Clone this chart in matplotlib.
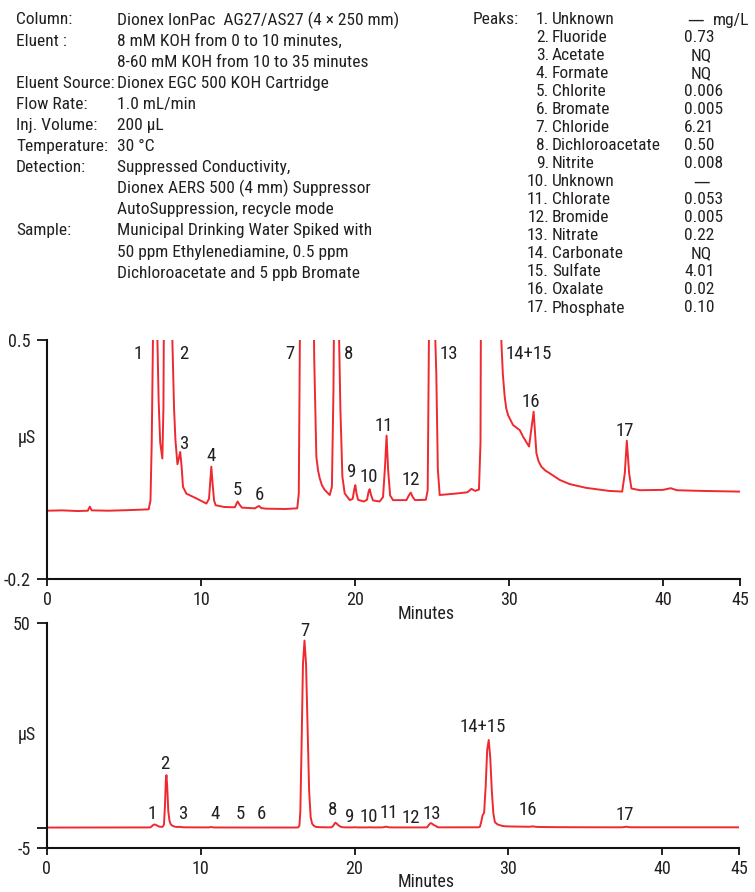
import matplotlib
matplotlib.use('Agg')
import matplotlib.pyplot as plt
from matplotlib import font_manager as fm

# ---------------- data ----------------
header_labels = ['Column:', 'Eluent :', '', 'Eluent Source:', 'Flow Rate:', 'Inj. Volume:',
                 'Temperature:', 'Detection:', '', '', 'Sample:', '', '']
header_values = ['Dionex IonPac  AG27/AS27 (4 \u00d7 250 mm)',
                 '8 mM KOH from 0 to 10 minutes,',
                 '8-60 mM KOH from 10 to 35 minutes',
                 'Dionex EGC 500 KOH Cartridge',
                 '1.0 mL/min',
                 '200 \u00b5L',
                 '30 \u00b0C',
                 'Suppressed Conductivity,',
                 'Dionex AERS 500 (4 mm) Suppressor',
                 'AutoSuppression, recycle mode',
                 'Municipal Drinking Water Spiked with',
                 '50 ppm Ethylenediamine, 0.5 ppm',
                 'Dichloroacetate and 5 ppb Bromate']

peak_names = ['Unknown', 'Fluoride', 'Acetate', 'Formate', 'Chlorite', 'Bromate', 'Chloride',
              'Dichloroacetate', 'Nitrite', 'Unknown', 'Chlorate', 'Bromide', 'Nitrate',
              'Carbonate', 'Sulfate', 'Oxalate', 'Phosphate']
peak_amounts = ['\u2014', '0.73', 'NQ', 'NQ', '0.006', '0.005', '6.21', '0.50', '0.008',
                '\u2014', '0.053', '0.005', '0.22', 'NQ', '4.01', '0.02', '0.10']

# chromatogram trace (minutes, uS)
time_min = [0.0, 1.0, 2.0, 2.65, 2.78, 2.9, 4.0, 5.5, 6.6, 6.72, 6.8, 6.88, 6.95, 7.0, 7.08,
            7.17, 7.25, 7.35, 7.49, 7.56, 7.62, 7.68, 7.74, 7.78, 7.83, 7.9, 7.98, 8.06, 8.14,
            8.25, 8.34, 8.47, 8.57, 8.65, 8.74, 8.83, 9.05, 9.7, 10.35, 10.52, 10.6, 10.67,
            10.75, 10.85, 10.95, 11.5, 12.2, 12.3, 12.38, 12.5, 12.65, 13.5, 13.68, 13.77, 13.9,
            14.2, 15.5, 16.25, 16.35, 16.42, 16.48, 16.56, 16.65, 16.75, 16.85, 16.95, 17.05,
            17.15, 17.25, 17.35, 17.49, 17.6, 17.71, 17.85, 18.03, 18.36, 18.5, 18.6, 18.68,
            18.76, 18.86, 18.95, 19.05, 19.18, 19.33, 19.66, 19.85, 19.95, 20.02, 20.1, 20.2,
            20.56, 20.78, 20.88, 20.95, 21.05, 21.17, 21.6, 21.82, 21.95, 22.05, 22.15, 22.28,
            22.47, 23.34, 23.5, 23.62, 23.75, 23.9, 24.6, 24.72, 24.8, 24.88, 24.95, 25.05,
            25.15, 25.28, 25.38, 25.5, 26.5, 27.3, 27.56, 27.8, 28.05, 28.15, 28.24, 28.32,
            28.42, 28.52, 28.62, 28.72, 28.82, 28.92, 29.02, 29.12, 29.3, 29.5, 29.6, 29.72,
            29.82, 29.94, 30.26, 30.7, 30.91, 31.3, 31.45, 31.6, 31.78, 31.92, 32.1, 32.35,
            32.63, 33.3, 33.94, 35.0, 36.5, 37.35, 37.52, 37.65, 37.8, 37.95, 38.5, 40.0, 40.5,
            40.9, 42.5, 45.0]
signal_uS = [0.0, 0.001, -0.001, 0.0, 0.012, 0.001, 0.0, 0.002, 0.004, 0.03, 0.2, 0.5, 0.68,
             0.75, 0.68, 0.5, 0.32, 0.2, 0.153, 0.3, 0.8, 5.0, 11.5, 12.8, 10.0, 4.0, 1.6, 0.8,
             0.5, 0.3, 0.207, 0.136, 0.155, 0.172, 0.13, 0.07, 0.05, 0.036, 0.021, 0.035, 0.085,
             0.129, 0.08, 0.03, 0.016, 0.011, 0.010, 0.02, 0.027, 0.018, 0.009, 0.007, 0.012,
             0.014, 0.008, 0.006, 0.005, 0.007, 0.05, 0.5, 4.0, 20.0, 40.0, 45.7, 40.0, 24.0,
             9.0, 2.5, 0.9, 0.45, 0.158, 0.118, 0.095, 0.075, 0.061, 0.046, 0.07, 0.35, 0.8,
             1.2, 0.9, 0.55, 0.3, 0.1, 0.051, 0.031, 0.035, 0.062, 0.075, 0.05, 0.032, 0.027,
             0.032, 0.055, 0.063, 0.045, 0.03, 0.027, 0.04, 0.13, 0.22, 0.12, 0.045, 0.031,
             0.031, 0.045, 0.053, 0.04, 0.031, 0.032, 0.06, 0.5, 0.85, 1.1, 0.9, 0.6, 0.4, 0.12,
             0.046, 0.05, 0.054, 0.064, 0.058, 0.062, 0.2, 1.5, 3.0, 3.6, 10.0, 19.0, 21.4,
             17.0, 9.0, 3.5, 1.3, 0.75, 0.5, 0.4, 0.334, 0.3, 0.28, 0.251, 0.236, 0.217, 0.188,
             0.24, 0.29, 0.168, 0.145, 0.129, 0.118, 0.11, 0.09, 0.078, 0.067, 0.058, 0.056,
             0.11, 0.205, 0.11, 0.065, 0.06, 0.061, 0.066, 0.06, 0.058, 0.056]

peak_labels = ['1', '2', '3', '4', '5', '6', '7', '8', '9', '10', '11', '12', '13', '14+15', '16', '17']

x_ticks = [0, 10, 20, 30, 40, 45]

# ---------------- font choice: prefer a narrow sans ----------------
narrow = None
prefs = ['Liberation Sans Narrow', 'Roboto Condensed', 'Open Sans Condensed',
         'Noto Sans Condensed', 'DejaVu Sans Condensed']
by_name = {}
for f in fm.fontManager.ttflist:
    if f.style != 'normal':
        continue
    w = f.weight if isinstance(f.weight, int) else 400
    if w not in (300, 400):
        continue
    by_name.setdefault(f.name, []).append(f)
for p in prefs:
    if p in by_name:
        narrow = sorted(by_name[p], key=lambda f: (f.stretch != 'condensed', f.weight != 400))[0].fname
        break
if narrow is None:
    for f in fm.fontManager.ttflist:
        if f.style == 'normal' and str(f.stretch) in ('condensed', 'semi-condensed') and \
                (f.weight in (400, 'normal', 'regular')):
            if 'Noto Sans' == f.name or 'DejaVu Sans' == f.name:
                narrow = f.fname
                break

if narrow is not None:
    fm.fontManager.addfont(narrow)
    fam = fm.FontProperties(fname=narrow).get_name()
    plt.rcParams['font.family'] = [fam, 'DejaVu Sans']
    SCALE = 1.0
else:
    plt.rcParams['font.family'] = ['Liberation Sans', 'DejaVu Sans']
    SCALE = 0.86

W, H = 755, 892
TXT = '#231f20'
RED = '#ee2a30'
FS_HEAD = 12.5 * SCALE
FS_TICK = 13 * SCALE
FS_LAB = 13.5 * SCALE
DASH_FAMILY = ['DejaVu Sans']

fig = plt.figure(figsize=(W / 100, H / 100), dpi=100)


def fx(px):
    return px / W


def fy(py):
    return 1 - py / H


# header (left block)
row_y = [20 + 21.1 * i for i in range(len(header_values))]
for lab, val, y in zip(header_labels, header_values, row_y):
    if lab:
        fig.text(fx(16), fy(y), lab, ha='left', va='center', fontsize=FS_HEAD, color=TXT)
    fig.text(fx(117), fy(y), val, ha='left', va='center', fontsize=FS_HEAD, color=TXT)

# peaks table (right block)
fig.text(fx(473), fy(20), 'Peaks:', ha='left', va='center', fontsize=FS_HEAD, color=TXT)
for i, (name, amt) in enumerate(zip(peak_names, peak_amounts)):
    y = 20 + 18.0 * i
    fig.text(fx(549), fy(y), f'{i + 1}.', ha='right', va='center', fontsize=FS_HEAD, color=TXT)
    fig.text(fx(552), fy(y), name, ha='left', va='center', fontsize=FS_HEAD, color=TXT)
    if i == 0:
        fig.text(fx(696), fy(y), amt, ha='center', va='center', fontsize=12, color=TXT,
                 family=DASH_FAMILY)
        fig.text(fx(713), fy(y), 'mg/L', ha='left', va='center', fontsize=FS_HEAD, color=TXT)
    elif amt == '\u2014':
        fig.text(fx(702), fy(y), amt, ha='center', va='center', fontsize=12, color=TXT,
                 family=DASH_FAMILY)
    elif amt == 'NQ':
        fig.text(fx(701), fy(y), amt, ha='center', va='center', fontsize=FS_HEAD, color=TXT)
    else:
        fig.text(fx(684), fy(y), amt, ha='left', va='center', fontsize=FS_HEAD, color=TXT)


def style_axes(ax):
    for s in ('top', 'right'):
        ax.spines[s].set_visible(False)
    for s in ('left', 'bottom'):
        ax.spines[s].set_linewidth(1.5)
        ax.spines[s].set_color('#111111')
    ax.tick_params(axis='y', direction='out', length=7.2, width=1.3, labelsize=FS_TICK,
                   colors='#111111', labelcolor=TXT, pad=4.5)
    ax.tick_params(axis='x', direction='out', length=5, width=1.3, labelsize=FS_TICK,
                   colors='#111111', labelcolor=TXT, pad=3.5)
    ax.set_xlim(0, 45)
    ax.set_xticks(x_ticks)
    ax.set_facecolor('none')


# top panel (zoomed)
ax1 = fig.add_axes([fx(47), fy(579), (740 - 47) / W, (579 - 340) / H])
ax1.plot(time_min, signal_uS, color=RED, lw=1.4)
ax1.set_ylim(-0.2, 0.5)
ax1.set_yticks([-0.2, 0.5])
ax1.set_yticklabels(['-0.2', '0.5'])
style_axes(ax1)
fig.text(fx(426), fy(614), 'Minutes', ha='center', va='center', fontsize=FS_TICK, color=TXT)
fig.text(fx(27), fy(438), '\u00b5S', ha='center', va='center', fontsize=FS_TICK, color=TXT)

top_label_x = [5.9, 8.9, 8.9, 10.64, 12.34, 13.77, 15.76, 19.6, 19.79, 20.89, 21.86, 23.62,
               26.1, 31.3, 31.41, 37.51]
top_label_y = [0.459, 0.459, 0.195, 0.16, 0.06, 0.046, 0.459, 0.459, 0.113, 0.10, 0.248, 0.09,
               0.459, 0.459, 0.318, 0.233]
for lab, x, y in zip(peak_labels, top_label_x, top_label_y):
    ax1.text(x, y, lab, ha='center', va='center', fontsize=FS_LAB, color=TXT)

# bottom panel (full scale)
ax2 = fig.add_axes([fx(46.7), fy(848), (739.3 - 46.7) / W, (848 - 623) / H])
ax2.plot(time_min, signal_uS, color=RED, lw=1.4)
ax2.set_ylim(-5, 50)
ax2.set_yticks([-5, 0, 50])
ax2.set_yticklabels(['-5', '', '50'])
style_axes(ax2)
fig.text(fx(426), fy(882), 'Minutes', ha='center', va='center', fontsize=FS_TICK, color=TXT)
fig.text(fx(27), fy(735), '\u00b5S', ha='center', va='center', fontsize=FS_TICK, color=TXT)

bot_label_x = [6.88, 7.67, 8.84, 10.92, 12.6, 13.97, 16.78, 18.6, 19.7, 20.94, 22.24, 23.67,
               25.04, 28.3, 31.25, 37.55]
bot_label_y = [3.3, 15.5, 3.3, 3.3, 3.3, 3.3, 48.0, 4.3, 2.6, 2.6, 3.5, 2.3, 3.3, 24.6, 4.3, 3.1]
for lab, x, y in zip(peak_labels, bot_label_x, bot_label_y):
    ax2.text(x, y, lab, ha='center', va='center', fontsize=FS_LAB, color=TXT)

fig.savefig('out.png', dpi=100)
